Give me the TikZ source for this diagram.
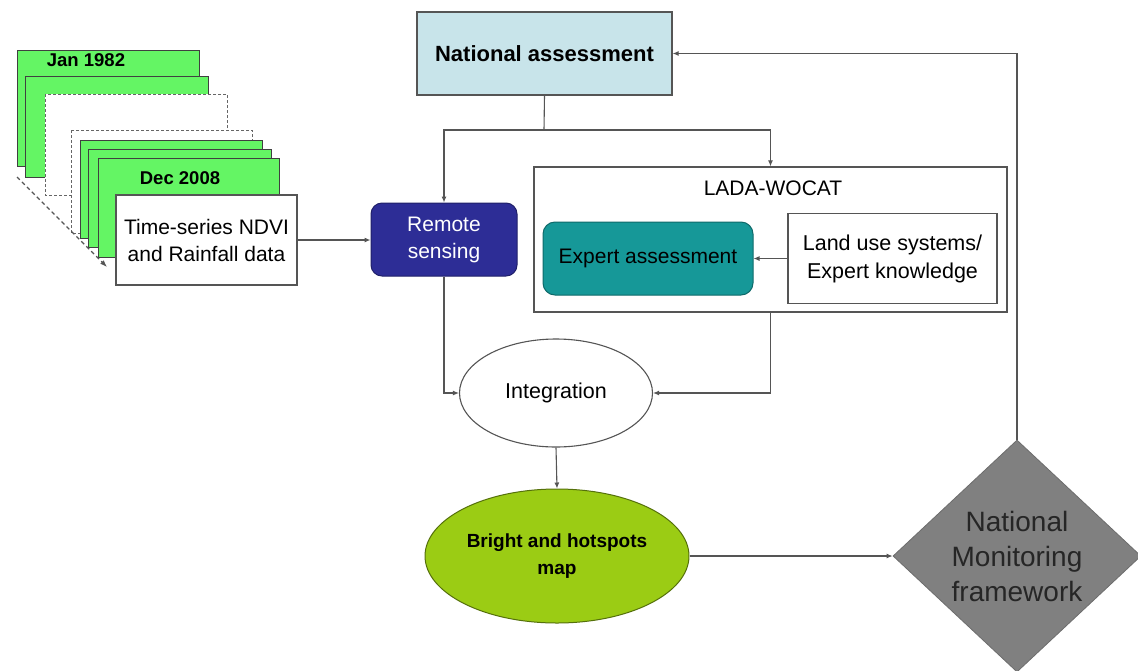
\documentclass[tikz,border=0pt]{standalone}
\usepackage{fontspec}
\setmainfont{Liberation Sans}
\usetikzlibrary{shapes.geometric,arrows.meta,positioning}
\definecolor{sheetgreen}{RGB}{100,245,100}
\definecolor{nablue}{RGB}{200,228,234}
\definecolor{rsblue}{RGB}{45,45,150}
\definecolor{teal2}{RGB}{22,152,152}
\definecolor{bhgreen}{RGB}{155,204,20}
\definecolor{dgray}{RGB}{128,128,128}
\definecolor{lgray}{RGB}{85,85,85}
\tikzset{
  sheet/.style={draw=black!75, line width=0.9pt, fill=sheetgreen},
  blanksheet/.style={draw=black!60, line width=0.9pt, dashed, dash pattern=on 3pt off 2pt, fill=white},
  boxw/.style={draw=lgray, line width=1.2pt, fill=white, inner sep=0pt, align=center},
  arr/.style={draw=lgray, line width=1.1pt, -{Latex[length=6pt,width=5pt]}},
  ln/.style={draw=lgray, line width=1.1pt},
  txt/.style={font=\fontsize{21}{27}\selectfont, align=center},
}
\begin{document}
\begin{tikzpicture}[x=1pt,y=-1pt]
\useasboundingbox (0,0) rectangle (1138,670);
\fill[white] (0,0) rectangle (1138,670);

% stack of sheets
\draw[sheet] (17,50) rectangle (199,166);
\node[font=\bfseries\fontsize{18.5}{22}\selectfont] (jan) at (86,60) {Jan 1982};
\draw[sheet] (25,76) rectangle (208,177);
\draw[blanksheet] (45,94) rectangle (227,195);
\draw[blanksheet] (71,130) rectangle (252,233);
\draw[sheet] (80,140) rectangle (262,238);
\draw[sheet] (88,149) rectangle (271,247);
\draw[sheet] (98,158) rectangle (279,257);
\node[font=\bfseries\fontsize{18.5}{22}\selectfont] (dec) at (180,178) {Dec 2008};
\coordinate (dstart) at (17,177);
\coordinate (dend) at (107,267);
\draw[draw=lgray, line width=1.1pt, dashed, dash pattern=on 4pt off 3pt, -{Latex[length=7pt,width=5pt]}] (dstart) -- (dend);

\node[boxw, txt, minimum width=181pt, minimum height=90pt] (ndvi) at (206.5,240) {Time-series NDVI\\and Rainfall data};

% main nodes
\node[draw=lgray, line width=1.2pt, fill=nablue, minimum width=255pt, minimum height=83pt, inner sep=0pt,
      font=\bfseries\fontsize{22}{26}\selectfont] (na) at (544.5,53.5) {National assessment};
\node[draw=rsblue!70!black, line width=1pt, fill=rsblue, rounded corners=11pt, minimum width=146pt, minimum height=73pt, inner sep=0pt,
      txt, text=white] (rs) at (444,239.5) {Remote\\sensing};
\node[boxw, minimum width=473pt, minimum height=145pt] (lada) at (770.5,239.5) {};
\node[txt] (ladat) at (773,188) {LADA-WOCAT};
\node[draw=teal2!70!black, line width=1pt, fill=teal2, rounded corners=12pt, minimum width=210pt, minimum height=73pt, inner sep=0pt,
      txt] (ea) at (648,258.5) {Expert assessment};
\node[boxw, txt, font=\fontsize{21.5}{28}\selectfont, minimum width=209pt, minimum height=90pt] (lus) at (892.5,258.5) {Land use systems/\\Expert knowledge};
\node[draw=lgray, line width=1.1pt, fill=white, ellipse, minimum width=193pt, minimum height=108pt, inner sep=0pt,
      font=\fontsize{21.5}{26}\selectfont] (int) at (556,393) {Integration};
\node[draw=bhgreen!55!black, line width=1pt, fill=bhgreen, ellipse, minimum width=264pt, minimum height=134pt, inner sep=0pt,
      align=center, font=\bfseries\fontsize{19}{27}\selectfont] (bh) at (557,556) {Bright and hotspots\\map};
\node[draw=dgray!85!black, line width=0.8pt, fill=dgray, diamond, minimum width=248pt, minimum height=232pt, inner sep=0pt] (nmf) at (1017,556) {};
\node[align=center, font=\fontsize{28}{35}\selectfont, text=black!85] (nmft) at (nmf.center) {National\\Monitoring\\framework};

% connectors
\draw[arr] (ndvi.east) -- (ndvi.east -| rs.west);
\coordinate (j) at (544,130);
\draw[ln] (na.south) -- (j);
\draw[arr] (j) -| (rs.north);
\draw[arr] (j) -| (lada.north);
\draw[arr] (lus.west) -- (ea.east);
\draw[arr] (rs.south) |- (int.west);
\draw[arr] (lada.south) |- (int.east);
\draw[arr] (int.south) -- (bh.north);
\draw[arr] (bh.east) -- (nmf.west);
\draw[arr] (nmf.north) |- (na.east);
\end{tikzpicture}
\end{document}
